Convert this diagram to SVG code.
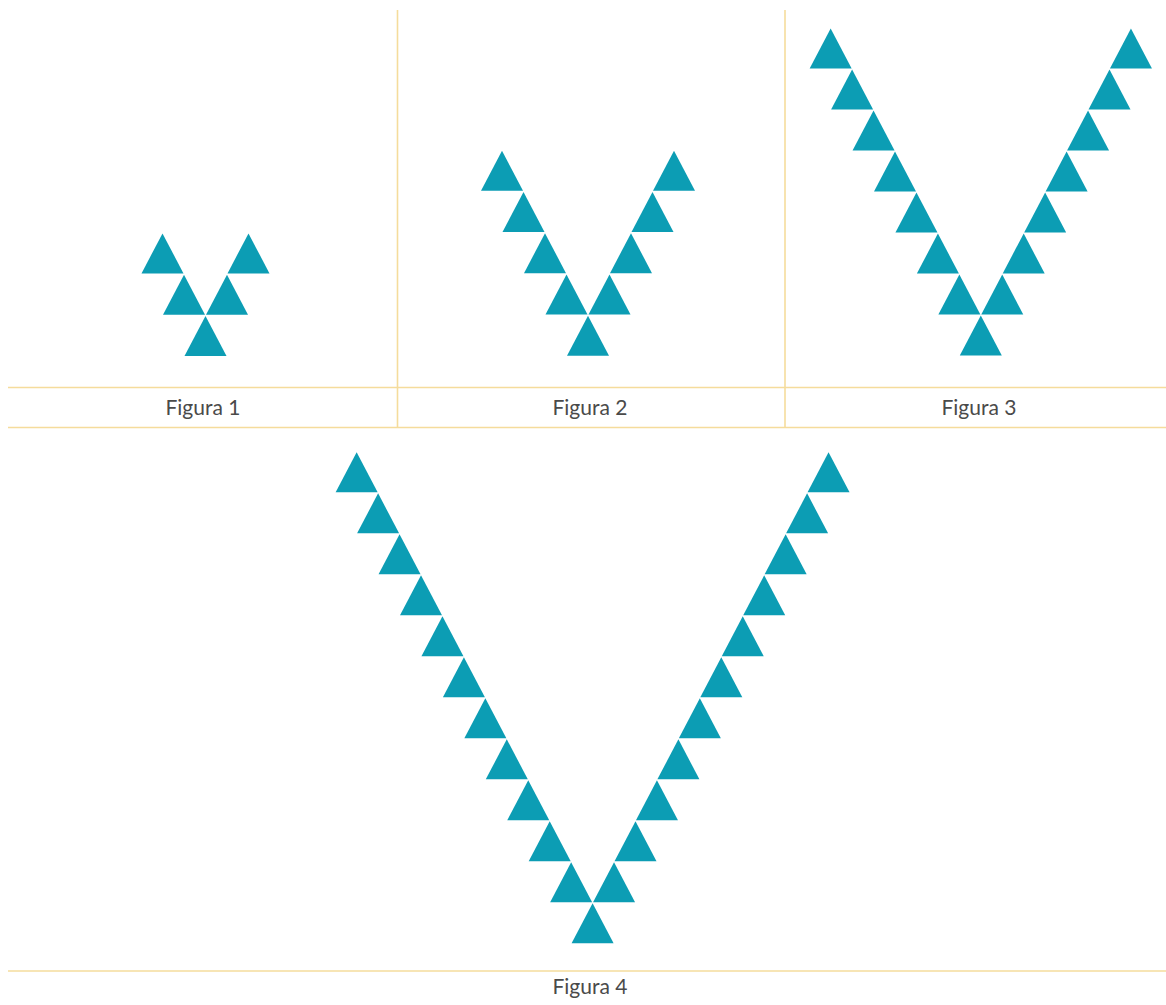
<svg xmlns="http://www.w3.org/2000/svg" xmlns:xlink="http://www.w3.org/1999/xlink" width="1166" height="1005" viewBox="0 0 1166 1005">
  <style>
    .grid { stroke: #f5dc9c; stroke-width: 1.6; fill: none; }
    .tri { fill: #0c9db4; }
    .lbl { font-family: Lato, "Open Sans", "Liberation Sans", sans-serif; font-size: 21px; fill: #4a4a4a; text-anchor: middle; }
  </style>
  <defs>
    <path id="t" d="M0,0 L21,40 L-21,40 Z"/>
  </defs>
  <rect width="1166" height="1005" fill="#ffffff"/>

  <g id="grid">
    <line class="grid" x1="8" y1="387.5" x2="1166" y2="387.5"/>
    <line class="grid" x1="8" y1="427.5" x2="1166" y2="427.5"/>
    <line class="grid" x1="397.5" y1="10" x2="397.5" y2="427.5"/>
    <line class="grid" x1="785" y1="10" x2="785" y2="427.5"/>
    <line class="grid" x1="8" y1="971" x2="1166" y2="971"/>
  </g>

  <g id="figura1" class="tri">
    <use xlink:href="#t" x="205.5" y="316"/>
    <use xlink:href="#t" x="184" y="274.7"/>
    <use xlink:href="#t" x="227" y="274.7"/>
    <use xlink:href="#t" x="162.5" y="233.4"/>
    <use xlink:href="#t" x="248.5" y="233.4"/>
  </g>

  <g id="figura2" class="tri">
    <use xlink:href="#t" x="588" y="315.7"/>
    <use xlink:href="#t" x="566.5" y="274.45"/>
    <use xlink:href="#t" x="609.5" y="274.45"/>
    <use xlink:href="#t" x="545" y="233.2"/>
    <use xlink:href="#t" x="631" y="233.2"/>
    <use xlink:href="#t" x="523.5" y="191.95"/>
    <use xlink:href="#t" x="652.5" y="191.95"/>
    <use xlink:href="#t" x="502" y="150.7"/>
    <use xlink:href="#t" x="674" y="150.7"/>
  </g>

  <g id="figura3" class="tri">
    <use xlink:href="#t" x="980.8" y="315.5"/>
    <use xlink:href="#t" x="959.35" y="274.5"/>
    <use xlink:href="#t" x="1002.25" y="274.5"/>
    <use xlink:href="#t" x="937.9" y="233.5"/>
    <use xlink:href="#t" x="1023.7" y="233.5"/>
    <use xlink:href="#t" x="916.45" y="192.5"/>
    <use xlink:href="#t" x="1045.15" y="192.5"/>
    <use xlink:href="#t" x="895" y="151.5"/>
    <use xlink:href="#t" x="1066.6" y="151.5"/>
    <use xlink:href="#t" x="873.55" y="110.5"/>
    <use xlink:href="#t" x="1088.05" y="110.5"/>
    <use xlink:href="#t" x="852.1" y="69.5"/>
    <use xlink:href="#t" x="1109.5" y="69.5"/>
    <use xlink:href="#t" x="830.65" y="28.5"/>
    <use xlink:href="#t" x="1130.95" y="28.5"/>
  </g>

  <g id="figura4" class="tri">
    <use xlink:href="#t" x="592.6" y="903.3"/>
    <use xlink:href="#t" x="571.15" y="862.3"/>
    <use xlink:href="#t" x="614.05" y="862.3"/>
    <use xlink:href="#t" x="549.7" y="821.3"/>
    <use xlink:href="#t" x="635.5" y="821.3"/>
    <use xlink:href="#t" x="528.25" y="780.3"/>
    <use xlink:href="#t" x="656.95" y="780.3"/>
    <use xlink:href="#t" x="506.8" y="739.3"/>
    <use xlink:href="#t" x="678.4" y="739.3"/>
    <use xlink:href="#t" x="485.35" y="698.3"/>
    <use xlink:href="#t" x="699.85" y="698.3"/>
    <use xlink:href="#t" x="463.9" y="657.3"/>
    <use xlink:href="#t" x="721.3" y="657.3"/>
    <use xlink:href="#t" x="442.45" y="616.3"/>
    <use xlink:href="#t" x="742.75" y="616.3"/>
    <use xlink:href="#t" x="421" y="575.3"/>
    <use xlink:href="#t" x="764.2" y="575.3"/>
    <use xlink:href="#t" x="399.55" y="534.3"/>
    <use xlink:href="#t" x="785.65" y="534.3"/>
    <use xlink:href="#t" x="378.1" y="493.3"/>
    <use xlink:href="#t" x="807.1" y="493.3"/>
    <use xlink:href="#t" x="356.65" y="452.3"/>
    <use xlink:href="#t" x="828.55" y="452.3"/>
  </g>

  <g id="labels">
    <text class="lbl" x="203" y="415">Figura 1</text>
    <text class="lbl" x="590" y="415">Figura 2</text>
    <text class="lbl" x="979" y="415">Figura 3</text>
    <text class="lbl" x="590" y="994">Figura 4</text>
  </g>
</svg>
